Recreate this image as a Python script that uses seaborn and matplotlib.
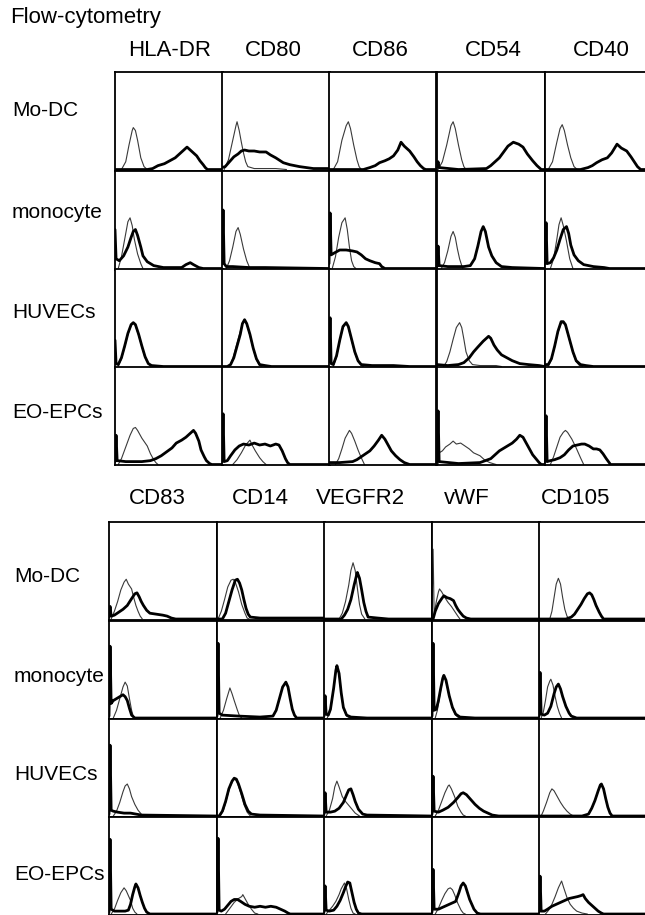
import pandas as pd
import seaborn as sns
import matplotlib.pyplot as plt

sns.set_style("white")
plt.rcParams["font.family"] = ["Liberation Sans", "DejaVu Sans"]
plt.rcParams["text.color"] = "black"

# labels
markers_top = ["HLA-DR", "CD80", "CD86", "CD54", "CD40"]
markers_bottom = ["CD83", "CD14", "VEGFR2", "vWF", "CD105"]
cell_types = ["Mo-DC", "monocyte", "HUVECs", "EO-EPCs"]

# histograms: (channel %, count %) per panel
# iso = isotype control (thin), stain = marker (thick)

# ---------- upper block ----------
iso_top_modc = [
    [(6, 0), (10, 8), (13, 25), (16, 40), (17, 43), (19, 40), (21, 30), (24, 12), (27, 3), (30, 0)],
    [(2, 0), (6, 10), (10, 30), (13, 45), (14, 49), (16, 40), (18, 28), (20, 17), (22, 8), (24, 3), (30, 1), (50, 1), (60, 0)],
    [(4, 0), (8, 8), (12, 30), (16, 45), (18, 49), (20, 42), (23, 25), (26, 10), (28, 3), (30, 0)],
    [(1, 0), (5, 8), (9, 25), (13, 45), (15, 49), (17, 42), (20, 25), (23, 10), (25, 3), (27, 0)],
    [(3, 0), (7, 8), (11, 28), (14, 42), (16, 46), (18, 40), (21, 25), (24, 12), (27, 3), (30, 0)],
]
stain_top_modc = [
    [(0, 0), (30, 0), (35, 1), (40, 4), (46, 6), (51, 9), (56, 12), (60, 16), (64, 20), (67, 23), (70, 20), (73, 17), (76, 14), (79, 9), (82, 5), (84, 2), (86, 0), (100, 0)],
    [(0, 2), (3, 3), (7, 8), (11, 13), (15, 16), (18, 19), (21, 20), (25, 19), (30, 19), (35, 18), (41, 18), (45, 15), (50, 12), (57, 7), (63, 5), (72, 3), (85, 1), (100, 1)],
    [(0, 0), (32, 0), (38, 2), (43, 4), (47, 7), (52, 9), (56, 11), (60, 14), (64, 20), (67, 28), (70, 24), (75, 19), (79, 13), (82, 8), (85, 4), (88, 1), (90, 0), (100, 0)],
    [(0, 3), (1, 8), (2, 2), (20, 0), (46, 1), (50, 4), (54, 8), (58, 12), (62, 18), (66, 24), (71, 28), (76, 26), (80, 23), (84, 16), (89, 9), (93, 4), (97, 0), (100, 0)],
    [(0, 0), (33, 0), (40, 2), (44, 4), (48, 7), (53, 10), (58, 12), (62, 17), (67, 26), (71, 22), (76, 19), (80, 13), (83, 8), (86, 3), (89, 0), (100, 0)],
]
iso_top_mono = [
    [(3, 0), (6, 12), (9, 30), (12, 48), (14, 52), (16, 44), (18, 30), (21, 15), (24, 5), (26, 0)],
    [(4, 0), (7, 8), (10, 22), (13, 38), (15, 42), (17, 35), (20, 20), (23, 8), (26, 0)],
    [(3, 0), (6, 12), (9, 32), (12, 47), (15, 52), (17, 40), (19, 22), (21, 8), (23, 2), (25, 0)],
    [(4, 0), (7, 6), (10, 18), (13, 33), (15, 38), (17, 32), (19, 20), (21, 10), (23, 3), (24, 0)],
    [(5, 0), (8, 10), (11, 30), (13, 45), (15, 52), (17, 44), (20, 28), (23, 10), (26, 0)],
]
stain_top_mono = [
    [(0, 40), (1, 10), (4, 8), (8, 13), (12, 22), (15, 32), (17, 38), (19, 40), (21, 34), (24, 22), (26, 13), (30, 7), (36, 3), (45, 1), (62, 1), (66, 4), (70, 6), (73, 4), (78, 1), (82, 0), (100, 0)],
    [(0, 5), (1, 60), (2, 5), (4, 2), (10, 2), (25, 1), (40, 1), (100, 0)],
    [(0, 5), (1, 57), (2, 14), (5, 16), (10, 19), (16, 19), (22, 18), (26, 17), (30, 14), (34, 10), (38, 8), (43, 6), (47, 5), (49, 2), (52, 0), (100, 0)],
    [(0, 2), (1, 23), (2, 3), (10, 2), (25, 2), (31, 3), (35, 10), (38, 23), (41, 38), (43, 43), (45, 38), (48, 22), (51, 13), (55, 6), (60, 2), (70, 1), (100, 0)],
    [(0, 5), (1, 47), (2, 5), (5, 6), (8, 11), (11, 19), (14, 30), (17, 40), (20, 43), (22, 36), (24, 24), (27, 14), (31, 8), (36, 4), (45, 2), (55, 1), (60, 0), (100, 0)],
]
iso_top_huvec = [
    [(3, 0), (6, 8), (9, 20), (12, 33), (15, 42), (17, 45), (19, 42), (22, 32), (25, 20), (28, 9), (31, 3), (33, 0)],
    [(7, 0), (10, 8), (13, 20), (16, 32), (19, 44), (21, 48), (23, 43), (26, 32), (29, 18), (32, 7), (35, 1), (37, 0)],
    [(4, 0), (7, 10), (10, 26), (13, 40), (16, 45), (18, 40), (21, 27), (24, 14), (27, 5), (30, 1), (32, 0)],
    [(6, 0), (9, 5), (12, 15), (15, 28), (18, 40), (21, 45), (23, 40), (25, 28), (27, 15), (30, 6), (33, 2), (40, 1), (55, 1), (60, 0)],
    [(3, 0), (6, 7), (9, 20), (12, 35), (15, 44), (17, 45), (19, 42), (22, 30), (26, 14), (29, 5), (32, 1), (35, 0)],
]
stain_top_huvec = [
    [(0, 27), (1, 3), (3, 2), (6, 9), (9, 21), (12, 34), (15, 43), (17, 45), (19, 43), (22, 33), (25, 21), (28, 10), (31, 3), (34, 1), (45, 0), (100, 0)],
    [(0, 0), (5, 0), (8, 2), (11, 9), (14, 21), (17, 33), (19, 44), (21, 48), (23, 44), (26, 33), (29, 19), (32, 8), (35, 2), (40, 1), (46, 0), (100, 0)],
    [(0, 5), (1, 50), (2, 3), (4, 2), (7, 11), (10, 27), (13, 41), (16, 45), (18, 41), (21, 28), (24, 15), (27, 6), (30, 2), (40, 1), (60, 1), (75, 0), (100, 0)],
    [(0, 2), (10, 1), (20, 2), (25, 4), (30, 9), (34, 15), (38, 20), (43, 26), (46, 29), (48, 31), (50, 29), (53, 22), (56, 17), (60, 12), (65, 9), (70, 6), (77, 3), (85, 2), (95, 1), (100, 0)],
    [(0, 2), (3, 2), (6, 8), (9, 21), (12, 36), (15, 46), (17, 46), (19, 43), (22, 31), (26, 15), (29, 6), (33, 2), (38, 1), (45, 0), (100, 0)],
]
iso_top_epc = [
    [(3, 0), (6, 6), (10, 18), (14, 30), (17, 37), (19, 38), (21, 35), (25, 27), (30, 19), (33, 11), (36, 5), (38, 2), (40, 0)],
    [(10, 0), (14, 5), (18, 12), (22, 20), (26, 25), (28, 20), (31, 14), (35, 7), (38, 3), (41, 0)],
    [(6, 0), (9, 6), (12, 16), (15, 27), (19, 35), (21, 32), (24, 24), (27, 15), (30, 7), (33, 0)],
    [(1, 0), (2, 12), (5, 14), (8, 18), (12, 21), (15, 24), (18, 21), (22, 22), (26, 19), (30, 16), (34, 12), (40, 9), (44, 5), (49, 2), (55, 0)],
    [(5, 0), (8, 8), (11, 18), (14, 28), (17, 33), (19, 35), (21, 33), (25, 26), (29, 17), (33, 7), (36, 0)],
]
stain_top_epc = [
    [(0, 3), (1, 30), (2, 4), (10, 3), (25, 3), (33, 4), (38, 6), (43, 9), (48, 13), (53, 17), (57, 22), (62, 25), (66, 28), (70, 32), (73, 35), (75, 32), (78, 24), (80, 15), (83, 8), (85, 4), (88, 1), (90, 0), (100, 0)],
    [(0, 3), (1, 52), (2, 3), (5, 4), (8, 9), (12, 15), (16, 19), (20, 21), (25, 20), (30, 22), (35, 20), (40, 21), (45, 19), (50, 21), (53, 20), (56, 14), (59, 6), (61, 2), (63, 0), (100, 0)],
    [(0, 2), (10, 2), (22, 3), (26, 5), (30, 8), (34, 11), (38, 14), (42, 19), (46, 25), (49, 30), (52, 26), (55, 20), (58, 14), (62, 9), (66, 5), (70, 2), (75, 0), (100, 0)],
    [(0, 3), (1, 55), (2, 3), (20, 1), (40, 2), (45, 4), (50, 6), (54, 10), (58, 14), (64, 18), (70, 22), (74, 26), (77, 30), (80, 28), (83, 22), (86, 16), (89, 10), (92, 6), (95, 2), (97, 0), (100, 0)],
    [(0, 3), (1, 50), (2, 3), (5, 4), (9, 5), (14, 7), (18, 10), (22, 15), (26, 19), (30, 20), (34, 21), (37, 21), (41, 19), (45, 16), (48, 16), (51, 15), (54, 11), (57, 6), (59, 3), (61, 0), (100, 0)],
]

# ---------- lower block ----------
iso_bot_modc = [
    [(2, 0), (5, 8), (8, 18), (11, 30), (14, 38), (16, 41), (18, 36), (21, 31), (23, 22), (25, 14), (27, 8), (29, 3), (31, 0)],
    [(1, 0), (4, 8), (7, 20), (10, 33), (13, 40), (15, 41), (17, 38), (20, 28), (23, 15), (26, 6), (28, 1), (30, 0)],
    [(14, 0), (17, 6), (20, 18), (23, 35), (25, 50), (27, 58), (29, 50), (31, 32), (33, 15), (35, 5), (38, 0)],
    [(0, 3), (1, 72), (2, 5), (4, 18), (6, 28), (7, 31), (9, 28), (12, 22), (15, 17), (18, 13), (21, 8), (24, 3), (26, 0)],
    [(10, 0), (12, 8), (14, 22), (16, 36), (18, 42), (20, 36), (22, 22), (24, 10), (26, 3), (28, 0)],
]
stain_bot_modc = [
    [(0, 2), (1, 13), (2, 3), (5, 4), (9, 7), (13, 10), (17, 14), (21, 21), (24, 26), (26, 27), (28, 23), (30, 18), (32, 14), (35, 9), (38, 6), (44, 5), (50, 4), (54, 3), (58, 1), (62, 0), (100, 0)],
    [(0, 0), (5, 0), (8, 6), (11, 18), (14, 30), (17, 40), (19, 41), (21, 37), (23, 30), (25, 20), (27, 11), (29, 5), (31, 2), (40, 1), (100, 1)],
    [(0, 0), (16, 0), (19, 4), (22, 10), (25, 20), (28, 35), (30, 44), (31, 48), (33, 42), (35, 30), (37, 17), (39, 8), (41, 2), (50, 1), (60, 0), (100, 0)],
    [(0, 0), (1, 0), (3, 8), (6, 16), (9, 21), (11, 24), (14, 22), (17, 21), (20, 19), (22, 14), (24, 10), (26, 7), (29, 3), (32, 1), (36, 0), (100, 0)],
    [(0, 0), (25, 0), (30, 2), (33, 5), (36, 10), (39, 15), (42, 21), (45, 26), (47, 27), (49, 25), (51, 20), (53, 14), (56, 7), (58, 3), (60, 0), (100, 0)],
]
iso_bot_mono = [
    [(4, 0), (7, 8), (10, 20), (13, 32), (15, 37), (17, 33), (19, 20), (21, 8), (23, 0)],
    [(3, 0), (6, 8), (9, 20), (12, 31), (14, 25), (16, 18), (19, 8), (21, 2), (23, 0)],
    [(3, 0), (6, 8), (9, 30), (11, 48), (12, 54), (14, 45), (16, 25), (18, 10), (21, 2), (24, 0)],
    [(3, 0), (5, 8), (8, 28), (10, 40), (11, 44), (13, 38), (16, 22), (19, 10), (22, 3), (25, 0)],
    [(2, 0), (4, 6), (6, 18), (8, 32), (10, 38), (11, 40), (13, 34), (15, 22), (17, 12), (19, 5), (21, 0)],
]
stain_bot_mono = [
    [(0, 2), (1, 74), (2, 15), (4, 18), (7, 20), (10, 22), (13, 24), (15, 22), (17, 18), (19, 10), (21, 3), (24, 0), (100, 0)],
    [(0, 2), (1, 77), (2, 5), (5, 3), (20, 2), (40, 1), (52, 2), (55, 8), (58, 20), (61, 32), (64, 37), (66, 32), (68, 20), (70, 9), (72, 3), (74, 0), (100, 0)],
    [(0, 2), (1, 23), (2, 4), (4, 3), (6, 9), (9, 31), (11, 49), (12, 54), (14, 46), (16, 26), (18, 11), (21, 3), (25, 1), (40, 0), (100, 0)],
    [(0, 2), (1, 77), (2, 8), (4, 9), (6, 18), (8, 30), (10, 41), (11, 44), (13, 39), (16, 23), (19, 11), (22, 4), (26, 1), (40, 0), (100, 0)],
    [(0, 2), (1, 47), (2, 4), (5, 3), (8, 5), (11, 12), (14, 25), (16, 32), (18, 35), (20, 30), (22, 22), (25, 12), (28, 5), (30, 2), (35, 0), (100, 0)],
]
iso_bot_huvec = [
    [(4, 0), (7, 5), (10, 14), (13, 25), (15, 31), (17, 33), (19, 28), (21, 20), (24, 12), (27, 6), (30, 2), (32, 0)],
    [(3, 0), (6, 6), (9, 18), (12, 30), (15, 37), (17, 38), (19, 34), (22, 24), (25, 12), (28, 4), (31, 0)],
    [(2, 0), (5, 6), (8, 18), (10, 30), (12, 36), (14, 30), (17, 20), (20, 15), (23, 11), (26, 7), (29, 3), (33, 0)],
    [(3, 0), (6, 6), (9, 15), (12, 24), (15, 31), (16, 32), (18, 28), (21, 20), (24, 10), (27, 4), (29, 1), (31, 0)],
    [(2, 0), (4, 5), (7, 14), (10, 24), (12, 28), (14, 26), (17, 20), (20, 14), (23, 9), (26, 5), (29, 2), (32, 0)],
]
stain_bot_huvec = [
    [(0, 2), (1, 73), (2, 6), (4, 5), (8, 4), (14, 3), (20, 3), (25, 2), (30, 1), (100, 0)],
    [(0, 0), (2, 0), (5, 5), (8, 15), (11, 28), (14, 36), (16, 39), (18, 38), (20, 33), (23, 23), (26, 12), (29, 5), (32, 2), (40, 1), (100, 0)],
    [(0, 2), (1, 24), (2, 4), (6, 4), (10, 5), (14, 8), (18, 14), (21, 22), (23, 27), (25, 28), (27, 22), (29, 15), (32, 7), (36, 2), (40, 1), (100, 0)],
    [(0, 2), (1, 41), (2, 5), (6, 4), (10, 6), (15, 9), (20, 14), (24, 19), (27, 23), (29, 24), (32, 22), (36, 17), (40, 12), (44, 8), (48, 5), (52, 3), (56, 1), (62, 0), (100, 0)],
    [(0, 0), (40, 0), (46, 2), (49, 8), (52, 16), (55, 26), (57, 32), (58, 33), (60, 28), (62, 18), (64, 9), (66, 3), (68, 0), (100, 0)],
]
iso_bot_epc = [
    [(2, 0), (5, 5), (8, 14), (11, 22), (14, 27), (16, 24), (18, 19), (20, 14), (22, 6), (24, 2), (26, 0)],
    [(8, 0), (12, 6), (16, 12), (20, 16), (23, 18), (24, 20), (26, 16), (29, 10), (32, 5), (35, 1), (38, 0)],
    [(2, 0), (5, 4), (8, 8), (11, 13), (14, 20), (16, 26), (18, 30), (19, 32), (21, 26), (23, 15), (25, 6), (27, 1), (29, 0)],
    [(3, 0), (6, 6), (9, 14), (12, 21), (15, 26), (17, 27), (19, 25), (21, 20), (24, 11), (27, 4), (29, 1), (31, 0)],
    [(6, 0), (9, 4), (12, 10), (15, 18), (18, 27), (21, 34), (23, 27), (26, 17), (29, 10), (32, 6), (35, 3), (40, 1), (45, 0)],
]
stain_bot_epc = [
    [(0, 2), (1, 77), (2, 5), (5, 3), (10, 3), (15, 3), (18, 4), (20, 10), (22, 20), (24, 28), (25, 31), (27, 27), (29, 19), (31, 12), (33, 6), (35, 2), (38, 0), (100, 0)],
    [(0, 2), (1, 78), (2, 4), (4, 3), (7, 5), (10, 9), (13, 13), (16, 15), (19, 15), (22, 13), (26, 10), (30, 8), (35, 7), (40, 8), (45, 7), (50, 8), (55, 7), (59, 5), (63, 3), (66, 1), (68, 0), (100, 0)],
    [(0, 2), (1, 29), (2, 4), (5, 3), (9, 4), (12, 8), (15, 14), (18, 22), (20, 28), (22, 33), (24, 32), (26, 22), (28, 12), (30, 5), (32, 1), (35, 0), (100, 0)],
    [(0, 2), (1, 46), (2, 5), (6, 5), (10, 7), (14, 9), (18, 11), (22, 13), (25, 22), (27, 29), (29, 32), (31, 29), (33, 22), (35, 15), (37, 10), (39, 5), (42, 1), (45, 0), (100, 0)],
    [(0, 2), (1, 39), (2, 3), (5, 3), (8, 5), (12, 8), (16, 10), (20, 12), (24, 14), (28, 16), (32, 17), (36, 18), (39, 19), (41, 20), (43, 16), (46, 12), (49, 9), (52, 6), (55, 3), (58, 1), (60, 0), (100, 0)],
]

W, H = 645, 915
fig = plt.figure(figsize=(W / 100, H / 100), dpi=100)


def draw_block(x_left, y_top, cw, ch, iso_rows, stain_rows):
    for r in range(4):
        for c in range(5):
            ax = fig.add_axes([x_left[c] / W, 1 - (y_top[r] + ch) / H, cw / W, ch / H])
            for curve, lw, color in [(iso_rows[r][c], 0.8, "#3a3a3a"),
                                     (stain_rows[r][c], 2.0, "black")]:
                df = pd.DataFrame(curve, columns=["channel", "count"])
                sns.lineplot(data=df, x="channel", y="count", sort=False, estimator=None,
                             color=color, linewidth=lw, ax=ax)
            ax.set_xlim(0, 100)
            ax.set_ylim(-1, 100)
            ax.set(xticks=[], yticks=[], xlabel="", ylabel="")
            for s in ax.spines.values():
                s.set_linewidth(1.3)
                s.set_color("black")


# upper block
draw_block([115, 222, 329, 437, 545], [72, 171, 269, 367], 107.5, 98.5,
           [iso_top_modc, iso_top_mono, iso_top_huvec, iso_top_epc],
           [stain_top_modc, stain_top_mono, stain_top_huvec, stain_top_epc])
# lower block
draw_block([109, 217, 324, 432, 539], [522, 621, 719, 817], 107.6, 98,
           [iso_bot_modc, iso_bot_mono, iso_bot_huvec, iso_bot_epc],
           [stain_bot_modc, stain_bot_mono, stain_bot_huvec, stain_bot_epc])

fig.text(10 / W, 1 - 17 / H, "Flow-cytometry", fontsize=16, va="center", ha="left")

for name, x in zip(markers_top, [170, 273, 380, 493, 601]):
    fig.text(x / W, 1 - 50 / H, name, fontsize=16, va="center", ha="center")
for name, x in zip(markers_bottom, [157, 260, 360, 467, 576]):
    fig.text(x / W, 1 - 498 / H, name, fontsize=16, va="center", ha="center")

for name, y in zip(cell_types, [110, 212, 312, 412]):
    fig.text(12 / W, 1 - y / H, name, fontsize=15, va="center", ha="left")
for name, y in zip(cell_types, [577, 677, 775, 875]):
    fig.text(14 / W, 1 - y / H, name, fontsize=15, va="center", ha="left")

fig.savefig("out.png", dpi=100)
plt.close(fig)
